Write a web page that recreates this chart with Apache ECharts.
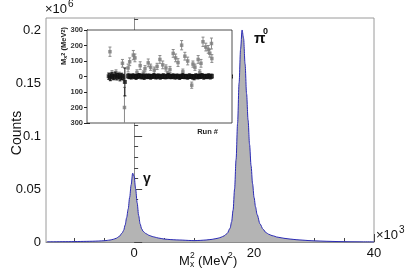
<!DOCTYPE html>
<html><head><meta charset="utf-8">
<script src="https://cdn.jsdelivr.net/npm/echarts@6/dist/echarts.min.js"></script>
<style>html,body{margin:0;padding:0;background:#fff}#c{width:415px;height:270px}</style>
</head><body><div id="c"></div>
<script>
// Main histogram: M_x^2 bin centres (x10^3 MeV^2) and counts (x10^6)
const mx2 = [-14.5,-13,-12,-11,-10,-9,-8,-7,-6,-5,-4.5,-4,-3.5,-3,-2.5,-2,-1.75,-1.5,-1.25,-1,-0.75,-0.5,-0.25,0,0.25,0.5,0.75,1,1.25,1.5,2,2.5,3,3.5,4,5,6,7,8,9,10,11,12,13,14,14.5,15,15.5,16,16.25,16.5,16.75,17,17.25,17.5,17.75,18,18.25,18.5,18.75,19,19.25,19.5,19.75,20,20.25,20.5,21,21.5,22,22.5,23,24,25,26,27,28,29,30,32,34,36,38,40];
const counts = [0.0002,0.0002,0.0003,0.0003,0.0004,0.0005,0.0006,0.0007,0.0009,0.0012,0.0015,0.0019,0.0025,0.0035,0.0052,0.0085,0.011,0.016,0.023,0.031,0.042,0.054,0.065,0.062,0.050,0.037,0.025,0.017,0.0125,0.0100,0.0078,0.0063,0.0052,0.0045,0.0038,0.0028,0.0023,0.0020,0.0018,0.0015,0.0013,0.0015,0.0019,0.0025,0.0036,0.0045,0.0058,0.0080,0.0130,0.019,0.030,0.050,0.078,0.112,0.150,0.182,0.200,0.192,0.168,0.140,0.115,0.092,0.072,0.055,0.042,0.033,0.026,0.017,0.012,0.0088,0.0072,0.0060,0.0045,0.0035,0.0028,0.0022,0.0018,0.0014,0.0011,0.0007,0.0004,0.0002,0.0001,0.0001];
// Tick values / labels
const xLabelVals = [0, 20, 40];
const xMinorVals = [-10, -5, 5, 10, 15, 25, 30, 35];
const yLabelVals = [0, 0.05, 0.1, 0.15, 0.2];
const yMinorVals = [0.01,0.02,0.03,0.04,0.06,0.07,0.08,0.09,0.11,0.12,0.13,0.14,0.16,0.17,0.18,0.19,0.21];
// Inset: [run index, M_x^2 (MeV^2), error]
const blackPts = [[27,2,20],[29,-5,22],[31,4,20],[33,-3,18],[35,6,22],[37,-2,20],[39,3,18],[41,-6,22],[43,1,20],[45,-4,18],
 [47,-35,90],
 [51,3,14],[53,1,15],[55,-2,14],[57,4,13],[59,0,14],[61,-3,15],[63,2,14],[65,5,13],[67,-1,14],[69,1,15],[71,-4,14],[73,3,13],[75,0,14],[77,2,14],[79,-2,15],[81,1,13],[83,4,14],[85,-1,14],[87,0,15],[89,3,13],[91,-3,14],[93,1,14],[95,2,15],[97,-2,13],[99,0,14],[101,4,14],[103,1,15],[105,-1,13],[107,3,14],[109,-2,14],[111,0,15],[113,2,13],[115,-4,14],[117,1,14],[119,3,15],[121,-1,13],[123,0,14],[125,-3,14],[127,2,15],[129,1,13],[131,-2,14],[133,-5,16],[135,3,14],[137,0,15],[139,-1,13],[141,2,14],[143,4,14],[145,-2,15],[147,1,13],[149,0,14],[151,3,14],[153,-1,15],[155,2,13]];
const greyPts = [[28.5,160,30],[31,20,18],[36,25,18],[40,12,16],[44,85,25],[46.5,-200,130],[51,55,25],[53,95,25],[57.5,138,30],[59.5,120,25],[62,25,18],[66,70,25],[70,20,16],[72,50,20],[76,88,25],[79,60,20],[83.5,41,20],[87,65,20],[90.5,110,25],[94,75,25],[98,55,20],[100,18,15],[103,45,20],[107,149,25],[110,120,25],[113,90,25],[117.5,202,30],[119,30,18],[121.5,131,25],[125,100,25],[130,-56,20],[131.5,80,20],[134,60,20],[138,110,25],[140,25,18],[141.5,85,25],[144,224,30],[147.5,190,25],[150.5,175,25],[152.5,150,25],[154.5,213,35],[155,116,25]];
const insetYLabels = [-300,-200,-100,0,100,200,300];

const FONT = 'Liberation Sans, Arial, Helvetica, sans-serif';
function errBar(color) {
  return function (params, api) {
    const x = api.value(0), y = api.value(1), e = api.value(2);
    const t = api.coord([x, y + e]), b = api.coord([x, y - e]);
    const st = { stroke: color, lineWidth: 1 };
    return { type: 'group', children: [
      { type: 'line', shape: { x1: t[0], y1: t[1], x2: b[0], y2: b[1] }, style: st },
      { type: 'line', shape: { x1: t[0] - 1.5, y1: t[1], x2: t[0] + 1.5, y2: t[1] }, style: st },
      { type: 'line', shape: { x1: b[0] - 1.5, y1: b[1], x2: b[0] + 1.5, y2: b[1] }, style: st }
    ]};
  };
}

const chart = echarts.init(document.getElementById('c'), null, { renderer: 'canvas' });
const axisGrey = '#8c8c8c';
const option = {
  animation: false,
  grid: [
    { left: 46, right: 41, top: 18, bottom: 28, show: true, borderColor: '#9a9a9a', borderWidth: 1, backgroundColor: 'transparent' },
    { left: 87, top: 30, width: 145, height: 93, show: true, borderColor: '#222', borderWidth: 0.8, backgroundColor: '#fff', z: 5 }
  ],
  xAxis: [
    { type: 'value', gridIndex: 0, position: 'bottom', offset: 0, min: -14.7, max: 40, axisLine: { show: true, lineStyle: { color: axisGrey } },
      axisTick: { show: true, inside: true, length: 4, customValues: xMinorVals, lineStyle: { color: '#444' } },
      axisLabel: { show: false }, splitLine: { show: false } },
    { type: 'value', gridIndex: 0, position: 'bottom', offset: 0, min: -14.7, max: 40, axisLine: { show: false },
      axisTick: { show: true, inside: true, length: 8, customValues: xLabelVals, lineStyle: { color: '#444' } },
      axisLabel: { show: true, customValues: xLabelVals, fontSize: 13, fontFamily: FONT, color: '#111', margin: 5 },
      splitLine: { show: false } },
    { type: 'value', gridIndex: 1, min: 0, max: 180, interval: 10, position: 'bottom', offset: 0,
      axisLine: { show: true, lineStyle: { color: '#222', width: 0.8 } },
      axisTick: { show: true, inside: true, length: 2, lineStyle: { color: '#222' } },
      axisLabel: { show: false }, splitLine: { show: false } },
    { type: 'value', gridIndex: 1, min: 0, max: 180, interval: 10, position: 'top', offset: 0,
      axisLine: { show: true, lineStyle: { color: '#222', width: 0.8 } },
      axisTick: { show: true, inside: true, length: 2, lineStyle: { color: '#222' } },
      axisLabel: { show: false }, splitLine: { show: false } }
  ],
  yAxis: [
    { type: 'value', gridIndex: 0, position: 'left', offset: 0, min: 0, max: 0.2113, axisLine: { show: true, lineStyle: { color: axisGrey } },
      axisTick: { show: true, inside: true, length: 4, customValues: yMinorVals, lineStyle: { color: '#444' } },
      axisLabel: { show: false }, splitLine: { show: false } },
    { type: 'value', gridIndex: 0, position: 'left', offset: 0, min: 0, max: 0.2113, axisLine: { show: false },
      axisTick: { show: true, inside: true, length: 8, customValues: yLabelVals, lineStyle: { color: '#444' } },
      axisLabel: { show: true, customValues: yLabelVals, fontSize: 13, fontFamily: FONT, color: '#111', margin: 5,
        formatter: v => String(+(+v).toFixed(2)) },
      splitLine: { show: false } },
    { type: 'value', gridIndex: 1, min: -300, max: 300, position: 'left', offset: 0,
      axisLine: { show: true, lineStyle: { color: '#222', width: 0.8 } },
      axisTick: { show: true, inside: true, length: 3, customValues: insetYLabels, lineStyle: { color: '#222' } },
      axisLabel: { show: true, customValues: insetYLabels, fontSize: 7.5, fontWeight: 'bold', fontFamily: FONT, color: '#333', margin: 4,
        formatter: v => String(Math.abs(Math.round(v))) },
      splitLine: { show: false } },
    { type: 'value', gridIndex: 1, min: -300, max: 300, position: 'right', offset: 0,
      axisLine: { show: true, lineStyle: { color: '#222', width: 0.8 } },
      axisTick: { show: true, inside: true, length: 3, customValues: insetYLabels, lineStyle: { color: '#222' } },
      axisLabel: { show: false }, splitLine: { show: false } }
  ],
  series: [
    { type: 'line', xAxisIndex: 0, yAxisIndex: 0, data: mx2.map((x, i) => [x, counts[i]]),
      showSymbol: false, smooth: 0.3, smoothMonotone: 'x',
      lineStyle: { color: '#2b2bb5', width: 1 }, areaStyle: { color: '#b4b4b4', opacity: 1 }, z: 2 },
    { type: 'custom', xAxisIndex: 2, yAxisIndex: 2, data: greyPts, renderItem: errBar('#8a8a8a'), clip: true, z: 6 },
    { type: 'scatter', xAxisIndex: 2, yAxisIndex: 2, data: greyPts, symbol: 'rect', symbolSize: 3.5,
      itemStyle: { color: '#7a7a7a' }, clip: true, z: 7 },
    { type: 'custom', xAxisIndex: 2, yAxisIndex: 2, data: blackPts, renderItem: errBar('#111'), clip: true, z: 8 },
    { type: 'scatter', xAxisIndex: 2, yAxisIndex: 2, data: blackPts, symbol: 'rect', symbolSize: 4,
      itemStyle: { color: '#111' }, clip: true, z: 9 }
  ],
  graphic: [
    { type: 'text', x: 17, y: 133, rotation: Math.PI / 2, z: 20,
      style: { text: 'Counts', fontSize: 14, fontFamily: FONT, fill: '#111', align: 'center', verticalAlign: 'middle' } },
    { type: 'text', x: 45, y: 3, z: 20, style: { text: '×10', fontSize: 13, fontFamily: FONT, fill: '#111', align: 'left', verticalAlign: 'top' } },
    { type: 'text', x: 68, y: -1, z: 20, style: { text: '6', fontSize: 10, fontFamily: FONT, fill: '#111', align: 'left', verticalAlign: 'top' } },
    { type: 'text', x: 376, y: 229, z: 20, style: { text: '×10', fontSize: 13, fontFamily: FONT, fill: '#111', align: 'left', verticalAlign: 'top' } },
    { type: 'text', x: 399, y: 225, z: 20, style: { text: '3', fontSize: 10, fontFamily: FONT, fill: '#111', align: 'left', verticalAlign: 'top' } },
    // x-axis title M_x^2 (MeV^2)
    { type: 'text', x: 179, y: 255, z: 20, style: { text: 'M', fontSize: 13, fontFamily: FONT, fill: '#111', align: 'left', verticalAlign: 'top' } },
    { type: 'text', x: 190, y: 251, z: 20, style: { text: '2', fontSize: 8.5, fontFamily: FONT, fill: '#111', align: 'left', verticalAlign: 'top' } },
    { type: 'text', x: 190, y: 260, z: 20, style: { text: 'x', fontSize: 8.5, fontFamily: FONT, fill: '#111', align: 'left', verticalAlign: 'top' } },
    { type: 'text', x: 198, y: 255, z: 20, style: { text: '(MeV', fontSize: 13, fontFamily: FONT, fill: '#111', align: 'left', verticalAlign: 'top' } },
    { type: 'text', x: 228, y: 251, z: 20, style: { text: '2', fontSize: 8.5, fontFamily: FONT, fill: '#111', align: 'left', verticalAlign: 'top' } },
    { type: 'text', x: 233, y: 255, z: 20, style: { text: ')', fontSize: 13, fontFamily: FONT, fill: '#111', align: 'left', verticalAlign: 'top' } },
    // peak labels
    { type: 'text', x: 143, y: 172, z: 20, style: { text: 'γ', fontSize: 14, fontWeight: 'bold', fontFamily: FONT, fill: '#111', align: 'left', verticalAlign: 'top' } },
    { type: 'text', x: 254, y: 31, z: 20, style: { text: 'π', fontSize: 15, fontWeight: 'bold', fontFamily: FONT, fill: '#111', align: 'left', verticalAlign: 'top' } },
    { type: 'text', x: 263, y: 27, z: 20, style: { text: '0', fontSize: 9, fontWeight: 'bold', fontFamily: FONT, fill: '#111', align: 'left', verticalAlign: 'top' } },
    // inset labels
    { type: 'text', x: 64, y: 46, rotation: Math.PI / 2, z: 20,
      style: { text: '{a|M}{s|x}{p|2}{a| (MeV}{p|2}{a|)}', fontFamily: FONT, fill: '#222', align: 'center', verticalAlign: 'middle',
        rich: { a: { fontSize: 7.5, fontWeight: 'bold', fontFamily: FONT, fill: '#222', verticalAlign: 'middle' },
                s: { fontSize: 5.5, fontWeight: 'bold', fontFamily: FONT, fill: '#222', verticalAlign: 'bottom' },
                p: { fontSize: 5.5, fontWeight: 'bold', fontFamily: FONT, fill: '#222', verticalAlign: 'top' } } } },
    { type: 'text', x: 218, y: 132, z: 20, style: { text: 'Run #', fontSize: 7.5, fontWeight: 'bold', fontFamily: FONT, fill: '#222', align: 'right', verticalAlign: 'middle' } }
  ]
};
chart.setOption(option);
</script></body></html>
